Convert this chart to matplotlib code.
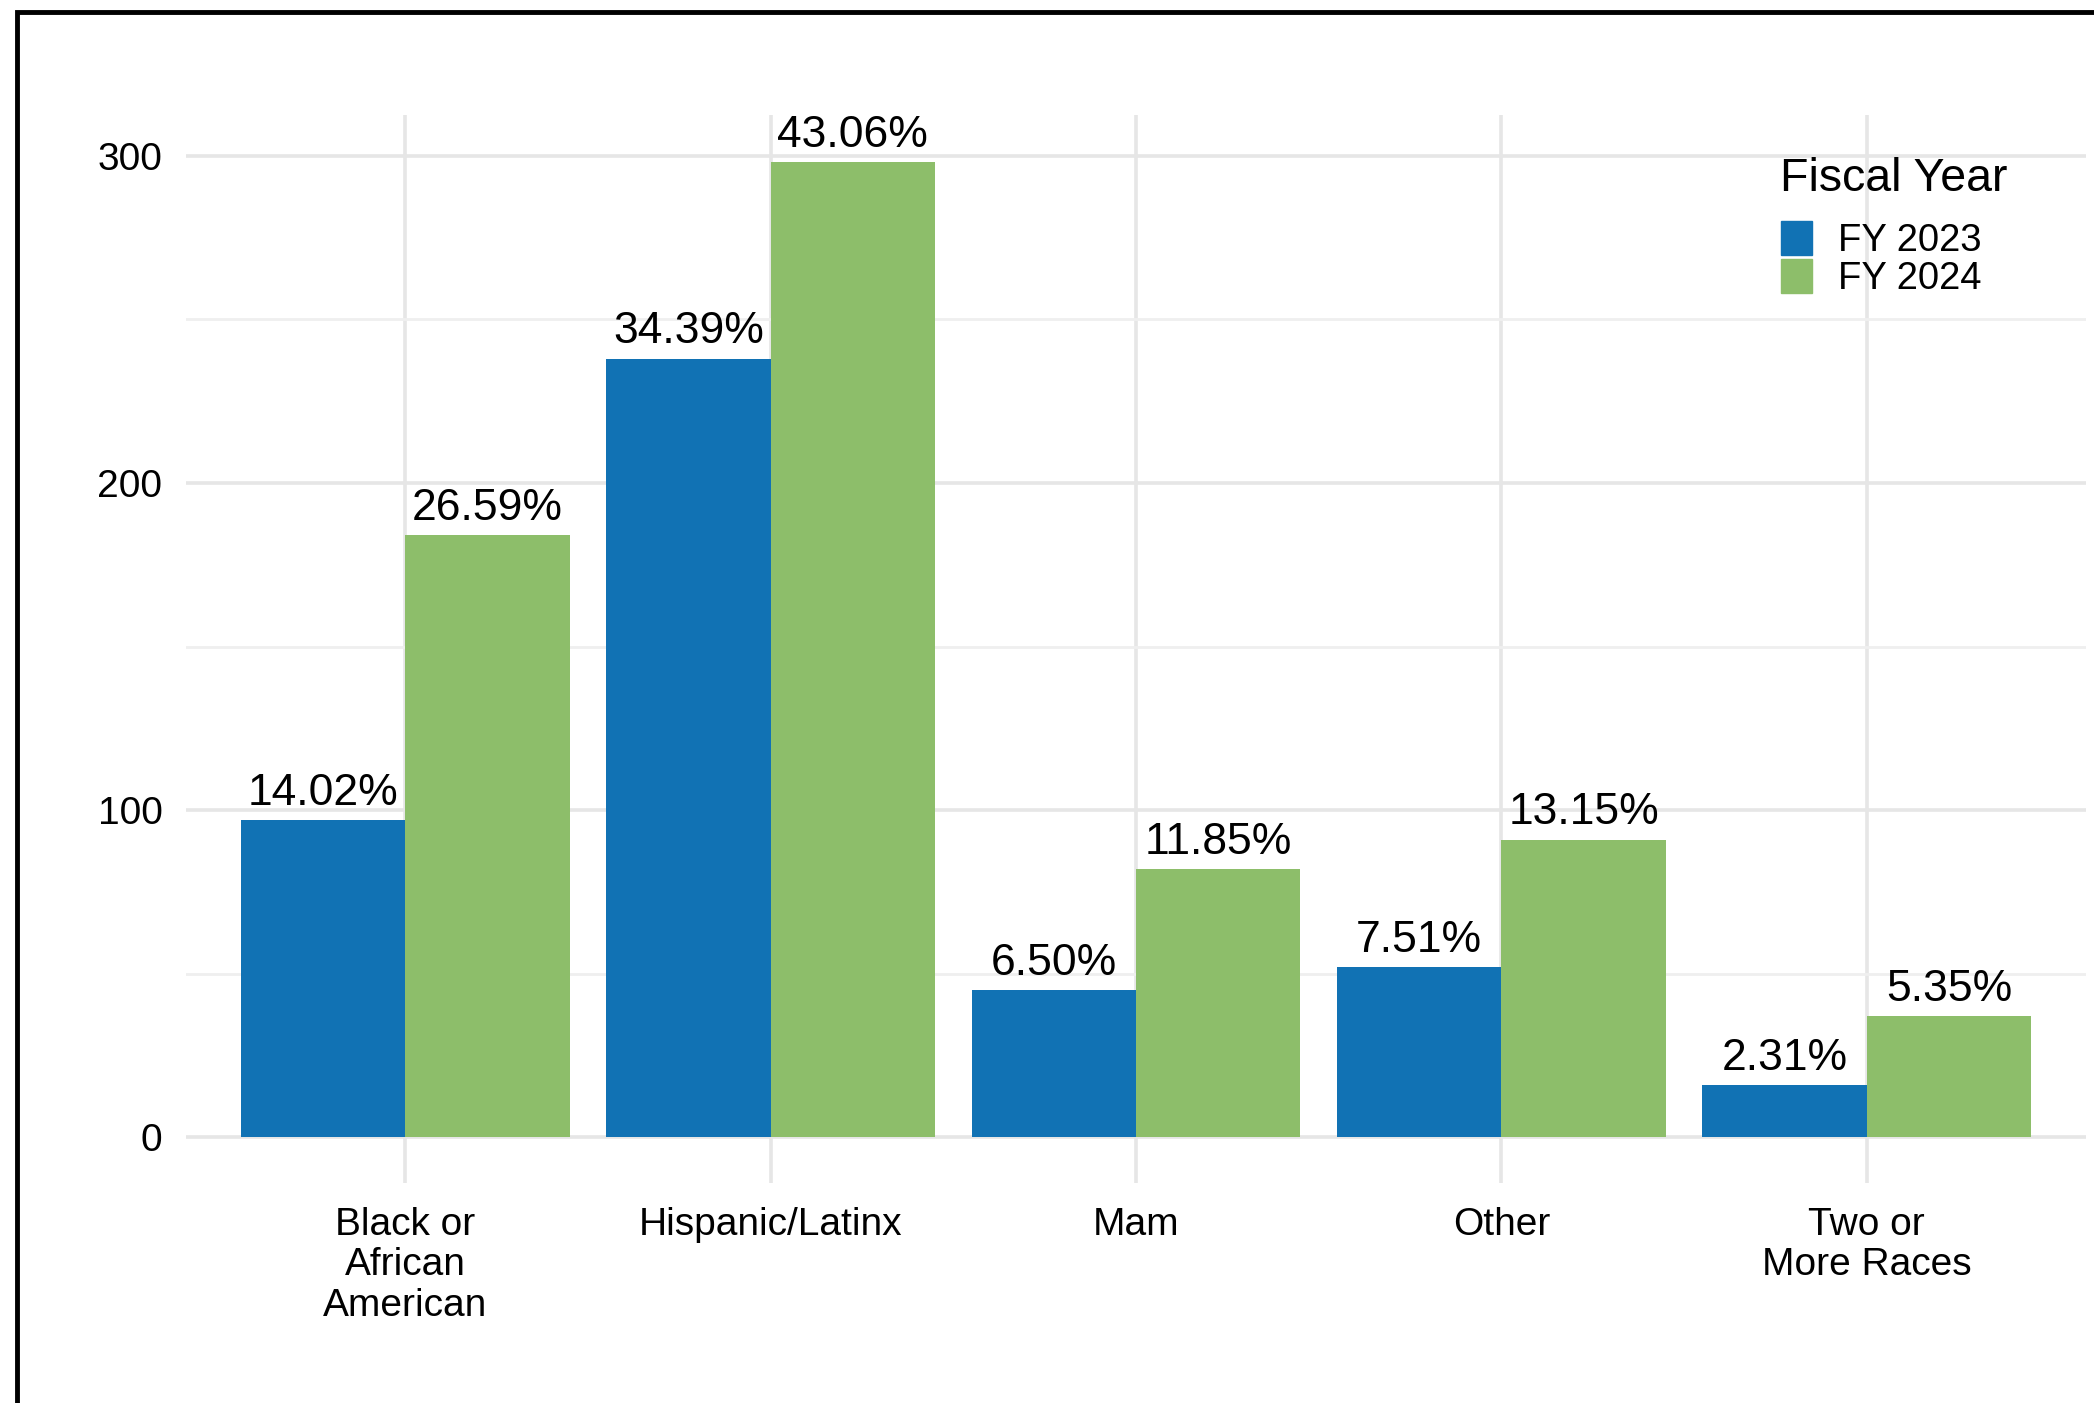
import matplotlib.pyplot as plt
from matplotlib.patches import Patch, Rectangle
import numpy as np

plt.rcParams['font.family'] = ['Liberation Sans', 'DejaVu Sans']

categories = ["Black or\nAfrican\nAmerican", "Hispanic/Latinx", "Mam", "Other", "Two or\nMore Races"]
fy2023 = [97, 238, 45, 52, 16]
fy2024 = [184, 298, 82, 91, 37]
pct2023 = ["14.02%", "34.39%", "6.50%", "7.51%", "2.31%"]
pct2024 = ["26.59%", "43.06%", "11.85%", "13.15%", "5.35%"]
years = ["FY 2023", "FY 2024"]

blue = "#1172B4"
green = "#8DBE6A"

fig = plt.figure(figsize=(20.94, 14.03), dpi=100)
ax = fig.add_axes([186 / 2094, 1 - 1183 / 1403, 1900 / 2094, 1068 / 1403])

x = np.arange(1, len(categories) + 1)
w = 0.45
b1 = ax.bar(x - w / 2, fy2023, w, color=blue, zorder=3)
b2 = ax.bar(x + w / 2, fy2024, w, color=green, zorder=3)

# percentage labels sit just above each bar
for bars, labels in ((b1, pct2023), (b2, pct2024)):
    for bar, lab in zip(bars, labels):
        ax.annotate(lab, (bar.get_x() + bar.get_width() / 2, bar.get_height()),
                    xytext=(0, 11), textcoords="offset points",
                    ha="center", va="baseline", fontsize=32, zorder=4)

ax.set_xlim(0.4, 5.6)
ax.set_ylim(-14, 312.5)
ax.set_yticks([0, 100, 200, 300])
ax.set_yticks([50, 150, 250], minor=True)
ax.set_xticks(x, categories, linespacing=1.17)
ax.tick_params(axis="both", which="both", length=0, labelsize=28)
ax.tick_params(axis="y", pad=17)
ax.tick_params(axis="x", pad=17)

ax.grid(True, which="major", color="#E6E6E6", linewidth=2.6, zorder=0)
ax.grid(True, which="minor", axis="y", color="#EFEFEF", linewidth=2.0, zorder=0)
for s in ax.spines.values():
    s.set_visible(False)

# legend: title as separate text, keys stacked tight
fig.text(1780 / 2094, 1 - 191 / 1403, "Fiscal Year", fontsize=33.5, va="baseline", ha="left")
handles = [Patch(color=blue), Patch(color=green)]
fig.legend(handles, years, loc="upper left", bbox_to_anchor=(1781 / 2094, 1 - 221 / 1403),
           frameon=False, fontsize=27.5, borderpad=0, borderaxespad=0,
           handlelength=0.8, handleheight=1.0, handletextpad=0.7, labelspacing=0)

# outer frame
fig.patches.append(Rectangle((17 / 2094, -0.1), 1.2, 1.1 - 12 / 1403,
                             transform=fig.transFigure, fill=False,
                             edgecolor="black", linewidth=3.5))

fig.savefig("out.png", dpi=100)
